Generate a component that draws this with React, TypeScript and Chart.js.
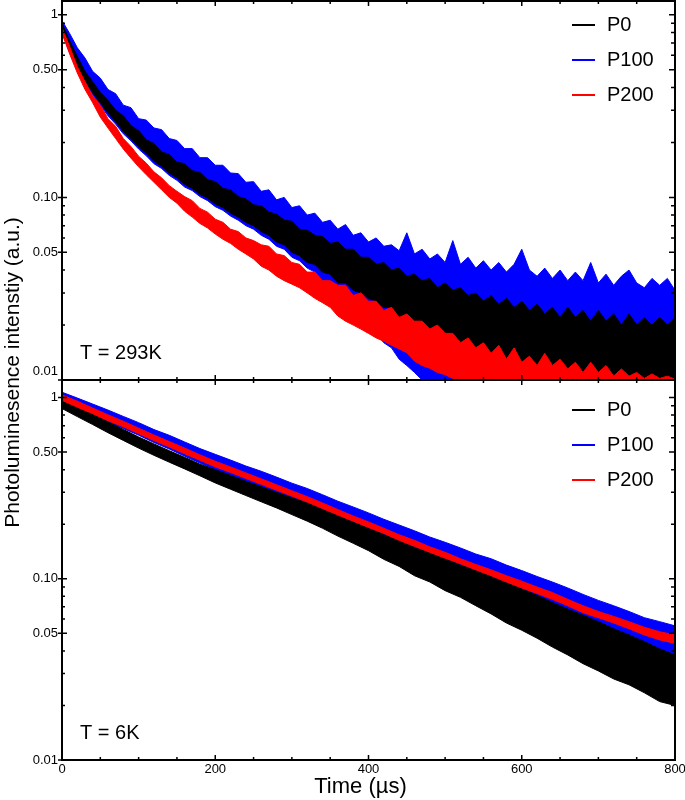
import React, { useEffect, useRef } from "react";
import { Chart, registerables } from "chart.js";

Chart.register(...registerables);

const FONT = '"Liberation Sans", Arial, Helvetica, sans-serif';

// ---- x values (µs) ----
const TIME_293 = [
  0, 10, 20, 30, 40, 50, 60, 70, 80, 90,
  100, 110, 120, 130, 140, 150, 160, 170, 180, 190,
  200, 210, 220, 230, 240, 250, 260, 270, 280, 290,
  300, 310, 320, 330, 340, 350, 360, 370, 380, 390,
  400, 410, 420, 430, 440, 450, 460, 470, 480, 490,
  500, 510, 520, 530, 540, 550, 560, 570, 580, 590,
  600, 610, 620, 630, 640, 650, 660, 670, 680, 690,
  700, 710, 720, 730, 740, 750, 760, 770, 780, 790,
  800,
];
const TIME_6K = [
  0, 20, 40, 60, 80, 100, 120, 140, 160, 180,
  200, 220, 240, 260, 280, 300, 320, 340, 360, 380,
  400, 420, 440, 460, 480, 500, 520, 540, 560, 580,
  600, 620, 640, 660, 680, 700, 720, 740, 760, 780,
  800,
];

// ---- T = 293K : upper / lower envelope of the noisy traces ----
const P0_293_HI = [
  0.90, 0.72, 0.59, 0.49, 0.43, 0.375, 0.34, 0.30, 0.28, 0.247,
  0.232, 0.207, 0.197, 0.177, 0.172, 0.156, 0.153, 0.140, 0.137, 0.125,
  0.122, 0.112, 0.110, 0.101, 0.098, 0.091, 0.090, 0.083, 0.081, 0.075,
  0.074, 0.067, 0.066, 0.062, 0.061, 0.056, 0.057, 0.052, 0.052, 0.047,
  0.047, 0.043, 0.044, 0.040, 0.041, 0.037, 0.038, 0.035, 0.036, 0.032,
  0.034, 0.031, 0.032, 0.029, 0.030, 0.027, 0.029, 0.026, 0.028, 0.025,
  0.027, 0.024, 0.026, 0.023, 0.025, 0.022, 0.025, 0.022, 0.024, 0.021,
  0.024, 0.021, 0.023, 0.020, 0.023, 0.020, 0.022, 0.020, 0.022, 0.020,
  0.022,
];
const P0_293_LO = [
  0.82, 0.64, 0.52, 0.435, 0.375, 0.33, 0.29, 0.26, 0.23, 0.21,
  0.19, 0.174, 0.158, 0.148, 0.136, 0.128, 0.118, 0.112, 0.104, 0.099,
  0.092, 0.088, 0.082, 0.078, 0.073, 0.070, 0.065, 0.062, 0.057, 0.055,
  0.050, 0.048, 0.044, 0.043, 0.039, 0.038, 0.034, 0.034, 0.031, 0.030,
  0.028, 0.027, 0.025, 0.025, 0.022, 0.023, 0.020, 0.020, 0.018, 0.018,
  0.0165, 0.0165, 0.015, 0.015, 0.0135, 0.014, 0.0125, 0.013, 0.0115, 0.012,
  0.0108, 0.011, 0.010, 0.0105, 0.010, 0.010, 0.010, 0.010, 0.010, 0.010,
  0.010, 0.010, 0.010, 0.010, 0.010, 0.010, 0.010, 0.010, 0.010, 0.010,
  0.010,
];
const P100_293_HI = [
  0.93, 0.79, 0.66, 0.58, 0.49, 0.45, 0.39, 0.37, 0.32, 0.31,
  0.27, 0.265, 0.24, 0.235, 0.21, 0.205, 0.185, 0.185, 0.165, 0.165,
  0.150, 0.150, 0.136, 0.135, 0.121, 0.122, 0.108, 0.110, 0.097, 0.100,
  0.088, 0.090, 0.080, 0.082, 0.073, 0.075, 0.067, 0.071, 0.062, 0.064,
  0.057, 0.060, 0.054, 0.055, 0.051, 0.064, 0.049, 0.052, 0.046, 0.049,
  0.044, 0.058, 0.043, 0.047, 0.041, 0.045, 0.040, 0.044, 0.039, 0.043,
  0.052, 0.040, 0.037, 0.041, 0.036, 0.040, 0.035, 0.039, 0.035, 0.044,
  0.034, 0.038, 0.033, 0.037, 0.040, 0.034, 0.032, 0.036, 0.033, 0.036,
  0.031,
];
const P100_293_LO = [
  0.80, 0.62, 0.505, 0.42, 0.365, 0.32, 0.28, 0.252, 0.223, 0.204,
  0.184, 0.169, 0.153, 0.144, 0.132, 0.124, 0.114, 0.109, 0.101, 0.096,
  0.089, 0.085, 0.079, 0.075, 0.070, 0.067, 0.062, 0.059, 0.054, 0.052,
  0.047, 0.045, 0.041, 0.039, 0.035, 0.033, 0.029, 0.027, 0.024, 0.022,
  0.020, 0.018, 0.016, 0.015, 0.013, 0.012, 0.011, 0.010, 0.010, 0.010,
  0.010, 0.010, 0.010, 0.010, 0.010, 0.010, 0.010, 0.010, 0.010, 0.010,
  0.010, 0.010, 0.010, 0.010, 0.010, 0.010, 0.010, 0.010, 0.010, 0.010,
  0.010, 0.010, 0.010, 0.010, 0.010, 0.010, 0.010, 0.010, 0.010, 0.010,
  0.010,
];
const P200_293_HI = [
  0.85, 0.67, 0.52, 0.43, 0.36, 0.32, 0.27, 0.245, 0.21, 0.19,
  0.168, 0.154, 0.138, 0.128, 0.116, 0.108, 0.101, 0.096, 0.087, 0.083,
  0.076, 0.073, 0.067, 0.065, 0.060, 0.058, 0.055, 0.054, 0.049, 0.048,
  0.044, 0.043, 0.039, 0.039, 0.035, 0.035, 0.033, 0.033, 0.029, 0.030,
  0.027, 0.027, 0.024, 0.025, 0.022, 0.023, 0.021, 0.021, 0.019, 0.020,
  0.018, 0.018, 0.016, 0.017, 0.015, 0.016, 0.014, 0.0155, 0.013, 0.015,
  0.0125, 0.0135, 0.012, 0.014, 0.012, 0.013, 0.0115, 0.0125, 0.011, 0.0125,
  0.011, 0.012, 0.0105, 0.0115, 0.0105, 0.011, 0.0102, 0.0108, 0.0102, 0.0105,
  0.0101,
];
const P200_293_LO = [
  0.79, 0.61, 0.48, 0.39, 0.33, 0.275, 0.24, 0.21, 0.184, 0.164,
  0.147, 0.133, 0.121, 0.11, 0.10, 0.093, 0.084, 0.078, 0.072, 0.068,
  0.063, 0.059, 0.056, 0.052, 0.049, 0.046, 0.042, 0.040, 0.037, 0.035,
  0.0335, 0.032, 0.030, 0.028, 0.0265, 0.025, 0.0224, 0.021, 0.020, 0.019,
  0.018, 0.017, 0.0163, 0.0155, 0.0148, 0.0141, 0.0127, 0.012, 0.0116, 0.011,
  0.0107, 0.0102, 0.010, 0.010, 0.010, 0.010, 0.010, 0.010, 0.010, 0.010,
  0.010, 0.010, 0.010, 0.010, 0.010, 0.010, 0.010, 0.010, 0.010, 0.010,
  0.010, 0.010, 0.010, 0.010, 0.010, 0.010, 0.010, 0.010, 0.010, 0.010,
  0.010,
];

// ---- T = 6K ----
const P0_6K_HI = [
  0.97, 0.89, 0.81, 0.735, 0.667, 0.606, 0.555, 0.509, 0.468, 0.429,
  0.40, 0.372, 0.345, 0.322, 0.300, 0.280, 0.262, 0.242, 0.223, 0.205,
  0.19, 0.175, 0.162, 0.149, 0.139, 0.129, 0.119, 0.111, 0.103, 0.095,
  0.088, 0.081, 0.074, 0.068, 0.063, 0.058, 0.053, 0.049, 0.045, 0.041,
  0.038,
];
const P0_6K_LO = [
  0.87, 0.785, 0.71, 0.64, 0.58, 0.526, 0.48, 0.44, 0.404, 0.37,
  0.338, 0.312, 0.288, 0.266, 0.246, 0.226, 0.208, 0.19, 0.172, 0.157,
  0.143, 0.128, 0.117, 0.104, 0.096, 0.086, 0.079, 0.071, 0.064, 0.057,
  0.052, 0.047, 0.042, 0.038, 0.034, 0.031, 0.028, 0.026, 0.0235, 0.021,
  0.020,
];
const P100_6K_HI = [
  1.07, 0.994, 0.921, 0.853, 0.787, 0.727, 0.666, 0.619, 0.569, 0.523,
  0.486, 0.452, 0.419, 0.392, 0.364, 0.337, 0.315, 0.291, 0.268, 0.249,
  0.231, 0.213, 0.198, 0.184, 0.170, 0.159, 0.148, 0.137, 0.129, 0.119,
  0.111, 0.103, 0.096, 0.089, 0.082, 0.076, 0.071, 0.066, 0.061, 0.058,
  0.055,
];
const P100_6K_LO = [
  0.95, 0.875, 0.80, 0.735, 0.675, 0.62, 0.565, 0.52, 0.475, 0.435,
  0.40, 0.372, 0.344, 0.318, 0.295, 0.274, 0.252, 0.23, 0.21, 0.192,
  0.175, 0.16, 0.145, 0.133, 0.12, 0.113, 0.102, 0.092, 0.084, 0.075,
  0.070, 0.064, 0.058, 0.053, 0.048, 0.045, 0.041, 0.038, 0.035, 0.033,
  0.031,
];
const P200_6K_HI = [
  1.035, 0.955, 0.875, 0.803, 0.74, 0.678, 0.621, 0.572, 0.526, 0.483,
  0.445, 0.414, 0.384, 0.356, 0.330, 0.306, 0.284, 0.262, 0.241, 0.222,
  0.206, 0.190, 0.175, 0.163, 0.150, 0.140, 0.129, 0.120, 0.112, 0.104,
  0.097, 0.090, 0.084, 0.077, 0.071, 0.066, 0.062, 0.058, 0.054, 0.051,
  0.049,
];
const P200_6K_LO = [
  0.965, 0.885, 0.815, 0.745, 0.69, 0.632, 0.579, 0.534, 0.49, 0.451,
  0.415, 0.386, 0.358, 0.332, 0.308, 0.286, 0.265, 0.244, 0.225, 0.208,
  0.192, 0.178, 0.163, 0.151, 0.14, 0.13, 0.121, 0.112, 0.104, 0.096,
  0.089, 0.083, 0.077, 0.071, 0.065, 0.061, 0.057, 0.053, 0.049, 0.046,
  0.044,
];

// ---- labels / ticks ----
const SERIES_NAMES = ["P0", "P100", "P200"];
const SERIES_COLORS = ["#000000", "#0000ff", "#ff0000"];
const PANEL_LABELS = ["T = 293K", "T = 6K"];
const X_LABEL_TICKS = [0, 200, 400, 600, 800];
const X_MINOR_TICKS = [0, 50, 100, 150, 200, 250, 300, 350, 400, 450, 500, 550, 600, 650, 700, 750, 800];
const Y_TICKS = [
  0.01, 0.02, 0.03, 0.04, 0.05, 0.06, 0.07, 0.08, 0.09,
  0.1, 0.2, 0.3, 0.4, 0.5, 0.6, 0.7, 0.8, 0.9, 1,
];
const Y_LABEL_VALUES = [0.01, 0.05, 0.1, 0.5, 1];
const Y_LABEL_TEXT = ["0.01", "0.05", "0.10", "0.50", "1"];
const X_TITLE = "Time (µs)";
const Y_TITLE = "Photoluminesence intenstiy (a.u.)";

function band(color: string, times: number[], hi: number[], lo: number[], axis: string, order: number) {
  return [
    {
      data: times.map((t, i) => ({ x: t, y: hi[i] })),
      borderColor: color,
      backgroundColor: color,
      borderWidth: 1,
      pointRadius: 0,
      fill: "+1",
      yAxisID: axis,
      order,
    },
    {
      data: times.map((t, i) => ({ x: t, y: lo[i] })),
      borderColor: color,
      backgroundColor: color,
      borderWidth: 1,
      pointRadius: 0,
      fill: false,
      yAxisID: axis,
      order,
    },
  ];
}

function yLabel(v: number, hideBottom: boolean) {
  const idx = Y_LABEL_VALUES.indexOf(v);
  if (idx < 0) return "";
  if (hideBottom && idx === 0) return "";
  return Y_LABEL_TEXT[idx];
}

const decorPlugin = {
  id: "decor",
  afterDraw(chart: any) {
    const { ctx, chartArea } = chart;
    const xs = chart.scales.x;
    const panels = [chart.scales.yTop, chart.scales.yBot];
    ctx.save();
    ctx.strokeStyle = "#000";
    ctx.fillStyle = "#000";
    panels.forEach((ys: any, p: number) => {
      const L = chartArea.left;
      const R = chartArea.right;
      const T = ys.top;
      const B = ys.bottom;
      ctx.lineWidth = 1.5;
      ctx.beginPath();
      X_MINOR_TICKS.forEach((t) => {
        const px = xs.getPixelForValue(t);
        const len = X_LABEL_TICKS.includes(t) ? 5 : 3;
        ctx.moveTo(px, B);
        ctx.lineTo(px, B - len);
        ctx.moveTo(px, T);
        ctx.lineTo(px, T + len);
      });
      Y_TICKS.forEach((v) => {
        const py = ys.getPixelForValue(v);
        const major = Y_LABEL_VALUES.includes(v);
        ctx.moveTo(L - (major ? 4 : 0), py);
        ctx.lineTo(L + (major ? 5 : 3), py);
        ctx.moveTo(R, py);
        ctx.lineTo(R - (major ? 6 : 4), py);
      });
      ctx.stroke();
      ctx.lineWidth = 2;
      ctx.strokeRect(L, T, R - L, B - T);

      // legend
      ctx.font = `20px ${FONT}`;
      ctx.textAlign = "left";
      ctx.textBaseline = "middle";
      const legTop = T + (p === 0 ? 24 : 30);
      SERIES_NAMES.forEach((name, i) => {
        const y = legTop + i * 35;
        ctx.strokeStyle = SERIES_COLORS[i];
        ctx.lineWidth = 2;
        ctx.beginPath();
        ctx.moveTo(R - 103, y);
        ctx.lineTo(R - 80, y);
        ctx.stroke();
        ctx.fillStyle = "#000";
        ctx.fillText(name, R - 68, y);
      });
      ctx.strokeStyle = "#000";

      // panel label
      ctx.font = `20px ${FONT}`;
      ctx.textAlign = "left";
      ctx.fillText(PANEL_LABELS[p], L + 18, B - 27);
    });

    // bottom label of the upper panel, lifted above the panel joint
    const yTop = chart.scales.yTop;
    ctx.font = `13px ${FONT}`;
    ctx.textAlign = "right";
    ctx.textBaseline = "middle";
    ctx.fillText(Y_LABEL_TEXT[0], chartArea.left - 4, yTop.getPixelForValue(Y_LABEL_VALUES[0]) - 9);

    // x title
    ctx.font = `22px ${FONT}`;
    ctx.textAlign = "center";
    ctx.textBaseline = "middle";
    ctx.fillText(X_TITLE, (chartArea.left + chartArea.right) / 2 - 8, chartArea.bottom + 27);

    // shared y title
    ctx.font = `21px ${FONT}`;
    ctx.translate(13, (chartArea.top + chartArea.bottom) / 2 - 8);
    ctx.rotate(-Math.PI / 2);
    ctx.fillText(Y_TITLE, 0, 0);
    ctx.restore();
  },
};

export default function App() {
  const ref = useRef<HTMLCanvasElement | null>(null);

  useEffect(() => {
    if (!ref.current) return;
    const datasets: any[] = [
      ...band(SERIES_COLORS[0], TIME_293, P0_293_HI, P0_293_LO, "yTop", 1),
      ...band(SERIES_COLORS[1], TIME_293, P100_293_HI, P100_293_LO, "yTop", 2),
      ...band(SERIES_COLORS[2], TIME_293, P200_293_HI, P200_293_LO, "yTop", 0),
      ...band(SERIES_COLORS[0], TIME_6K, P0_6K_HI, P0_6K_LO, "yBot", 1),
      ...band(SERIES_COLORS[1], TIME_6K, P100_6K_HI, P100_6K_LO, "yBot", 2),
      ...band(SERIES_COLORS[2], TIME_6K, P200_6K_HI, P200_6K_LO, "yBot", 0),
    ];

    const yCommon = (hideBottom: boolean) => ({
      type: "logarithmic",
      position: "left",
      stack: "panels",
      min: 0.01,
      grid: { display: false, drawTicks: false },
      border: { display: false },
      afterBuildTicks: (s: any) => {
        s.ticks = Y_TICKS.map((v) => ({ value: v }));
      },
      afterFit: (s: any) => {
        s.width = 62;
        s.paddingTop = 0;
        s.paddingBottom = 0;
      },
      ticks: {
        autoSkip: false,
        padding: 4,
        color: "#000",
        font: { family: FONT, size: 13 },
        callback: (v: any) => yLabel(Number(v), hideBottom),
      },
    });

    const chart = new Chart(ref.current, {
      type: "line",
      data: { datasets },
      options: {
        responsive: false,
        animation: false,
        devicePixelRatio: 1,
        layout: { padding: { left: 0, right: 10, top: 1, bottom: 0 } },
        plugins: { legend: { display: false }, tooltip: { enabled: false } },
        scales: {
          yBot: { ...yCommon(false), max: 1.25, stackWeight: 380 },
          yTop: { ...yCommon(true), max: 1.19, stackWeight: 379 },
          x: {
            type: "linear",
            position: "bottom",
            min: 0,
            max: 800,
            grid: { display: false, drawTicks: false },
            border: { display: false },
            afterBuildTicks: (s: any) => {
              s.ticks = X_LABEL_TICKS.map((v) => ({ value: v }));
            },
            afterFit: (s: any) => {
              s.height = 40;
              s.paddingLeft = 0;
              s.paddingRight = 0;
            },
            ticks: {
              autoSkip: false,
              maxRotation: 0,
              padding: 2,
              color: "#000",
              font: { family: FONT, size: 13 },
              callback: (v: any) => String(v),
            },
            title: { display: false },
          },
        },
      } as any,
      plugins: [decorPlugin],
    });
    return () => chart.destroy();
  }, []);

  return (
    <div style={{ position: "absolute", left: 0, top: 0, width: 685, height: 800, background: "#fff" }}>
      <canvas ref={ref} width={685} height={800} style={{ display: "block", width: 685, height: 800 }} />
    </div>
  );
}
